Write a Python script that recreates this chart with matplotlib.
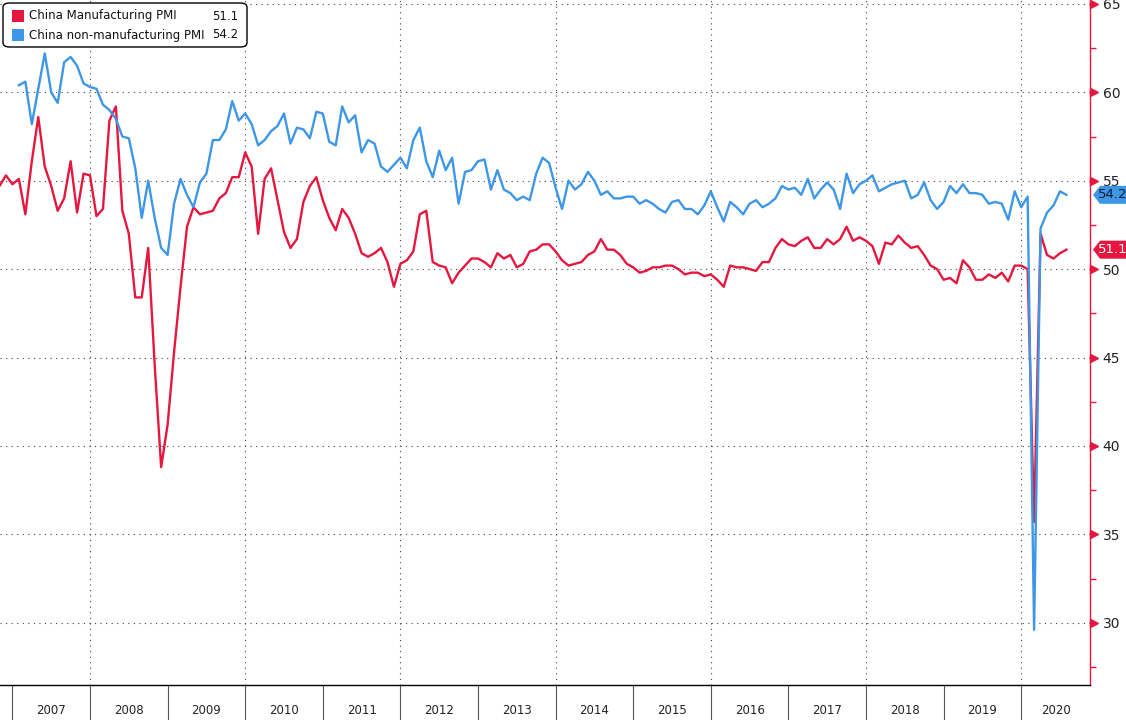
import numpy as np
import matplotlib
matplotlib.use('Agg')
from matplotlib import pyplot as plt
from matplotlib.patches import FancyBboxPatch, Rectangle, Polygon

# China official PMI, monthly (manufacturing starts Oct 2006, non-manufacturing Jan 2007)
mfg_start = (2006, 10)
mfg_pmi = [
    54.7, 55.3, 54.8,
    55.1, 53.1, 56.1, 58.6, 55.8, 54.7, 53.3, 54.0, 56.1, 53.2, 55.4, 55.3,
    53.0, 53.4, 58.4, 59.2, 53.3, 52.0, 48.4, 48.4, 51.2, 44.6, 38.8, 41.2,
    45.3, 49.0, 52.4, 53.5, 53.1, 53.2, 53.3, 54.0, 54.3, 55.2, 55.2, 56.6,
    55.8, 52.0, 55.1, 55.7, 53.9, 52.1, 51.2, 51.7, 53.8, 54.7, 55.2, 53.9,
    52.9, 52.2, 53.4, 52.9, 52.0, 50.9, 50.7, 50.9, 51.2, 50.4, 49.0, 50.3,
    50.5, 51.0, 53.1, 53.3, 50.4, 50.2, 50.1, 49.2, 49.8, 50.2, 50.6, 50.6,
    50.4, 50.1, 50.9, 50.6, 50.8, 50.1, 50.3, 51.0, 51.1, 51.4, 51.4, 51.0,
    50.5, 50.2, 50.3, 50.4, 50.8, 51.0, 51.7, 51.1, 51.1, 50.8, 50.3, 50.1,
    49.8, 49.9, 50.1, 50.1, 50.2, 50.2, 50.0, 49.7, 49.8, 49.8, 49.6, 49.7,
    49.4, 49.0, 50.2, 50.1, 50.1, 50.0, 49.9, 50.4, 50.4, 51.2, 51.7, 51.4,
    51.3, 51.6, 51.8, 51.2, 51.2, 51.7, 51.4, 51.7, 52.4, 51.6, 51.8, 51.6,
    51.3, 50.3, 51.5, 51.4, 51.9, 51.5, 51.2, 51.3, 50.8, 50.2, 50.0, 49.4,
    49.5, 49.2, 50.5, 50.1, 49.4, 49.4, 49.7, 49.5, 49.8, 49.3, 50.2, 50.2,
    50.0, 35.7, 52.0, 50.8, 50.6, 50.9, 51.1,
]

nonmfg_start = (2007, 1)
nonmfg_pmi = [
    60.4, 60.6, 58.2, 60.2, 62.2, 60.0, 59.4, 61.7, 62.0, 61.5, 60.5, 60.3,
    60.2, 59.3, 59.0, 58.5, 57.5, 57.4, 55.7, 52.9, 55.0, 52.9, 51.2, 50.8,
    53.7, 55.1, 54.2, 53.5, 54.9, 55.4, 57.3, 57.3, 57.9, 59.5, 58.4, 58.8,
    58.2, 57.0, 57.3, 57.8, 58.1, 58.8, 57.1, 58.0, 57.9, 57.4, 58.9, 58.8,
    57.2, 57.0, 59.2, 58.3, 58.7, 56.6, 57.3, 57.1, 55.8, 55.5, 55.9, 56.3,
    55.7, 57.3, 58.0, 56.1, 55.2, 56.7, 55.6, 56.3, 53.7, 55.5, 55.6, 56.1,
    56.2, 54.5, 55.6, 54.5, 54.3, 53.9, 54.1, 53.9, 55.4, 56.3, 56.0, 54.6,
    53.4, 55.0, 54.5, 54.8, 55.5, 55.0, 54.2, 54.4, 54.0, 54.0, 54.1, 54.1,
    53.7, 53.9, 53.7, 53.4, 53.2, 53.8, 53.9, 53.4, 53.4, 53.1, 53.6, 54.4,
    53.5, 52.7, 53.8, 53.5, 53.1, 53.7, 53.9, 53.5, 53.7, 54.0, 54.7, 54.5,
    54.6, 54.2, 55.1, 54.0, 54.5, 54.9, 54.5, 53.4, 55.4, 54.3, 54.8, 55.0,
    55.3, 54.4, 54.6, 54.8, 54.9, 55.0, 54.0, 54.2, 54.9, 53.9, 53.4, 53.8,
    54.7, 54.3, 54.8, 54.3, 54.3, 54.2, 53.7, 53.8, 53.7, 52.8, 54.4, 53.5,
    54.1, 29.6, 52.3, 53.2, 53.6, 54.4, 54.2,
]

years = list(range(2007, 2021))
y_ticks = [30, 35, 40, 45, 50, 55, 60, 65]

RED = '#e5173f'
BLUE = '#3d97e6'


def month_x(start, n):
    # points sit at month end
    y0, m0 = start
    return y0 + (m0 - 1) / 12 + (np.arange(n) + 1) / 12


W, H = 1126, 720
fig = plt.figure(figsize=(W / 100, H / 100), dpi=100)
ax = fig.add_axes([0, 35 / H, 1090 / W, 685 / H])

x_mfg = month_x(mfg_start, len(mfg_pmi))
x_non = month_x(nonmfg_start, len(nonmfg_pmi))
ax.plot(x_mfg, mfg_pmi, color=RED, lw=1.7, zorder=3)
ax.plot(x_non, nonmfg_pmi, color=BLUE, lw=1.7, zorder=4)

xmin, xmax = 2006.84, 2020.887
ax.set_xlim(xmin, xmax)
ax.set_ylim(26.48, 65.22)

# grid
for v in y_ticks:
    ax.axhline(v, color='#444444', lw=0.8, ls=(0, (1, 4)), zorder=1)
for yr in years[1::2]:
    ax.axvline(yr, color='#444444', lw=0.8, ls=(0, (1, 4)), zorder=1)

# spines
for s in ['left', 'top']:
    ax.spines[s].set_visible(False)
ax.spines['right'].set_color(RED)
ax.spines['right'].set_linewidth(1.0)
ax.spines['bottom'].set_color('black')
ax.spines['bottom'].set_linewidth(1.0)

# right axis
ax.yaxis.tick_right()
ax.set_yticks(y_ticks)
ax.set_yticks(np.arange(27.5, 65, 5), minor=True)
ax.tick_params(axis='y', which='major', length=0, pad=9, labelsize=10,
               labelcolor='#222222')
ax.tick_params(axis='y', which='minor', length=4, width=1, color=RED,
               direction='out')
ax.plot(np.full(len(y_ticks), 1.004), y_ticks, marker='>', ls='none',
        color=RED, ms=6, transform=ax.get_yaxis_transform(), clip_on=False)

# bottom axis: year separators with labels centred in each year
ax.set_xticks(years)
ax.set_xticklabels([])
centers = [(yr + min(yr + 1, xmax)) / 2 for yr in years]
ax.set_xticks(centers, minor=True)
ax.set_xticklabels([str(y) for y in years], minor=True)
ax.tick_params(axis='x', which='major', length=36, width=0.8, color='#555555')
ax.tick_params(axis='x', which='minor', length=0, pad=14, labelsize=8.5,
               labelcolor='#222222')

# last value tags (arrow-shaped, pointing at the axis)
tags = [(nonmfg_pmi[-1], BLUE, '#0b1b33'), (mfg_pmi[-1], RED, 'white')]
for val, bg, fg in tags:
    _, ypix = ax.transData.transform((xmax, val))
    x0, x1, x2, h = 1093, 1100, 1126, 9
    pts = [(x0, ypix), (x1, ypix + h), (x2, ypix + h), (x2, ypix - h), (x1, ypix - h)]
    fig.patches.append(Polygon(pts, closed=True, transform=None, fc=bg, ec='none',
                               zorder=10))
    fig.text((x2 + x1) / 2 / W, ypix / H, f'{val:.1f}', fontsize=9.5, color=fg,
             ha='center', va='center', zorder=11)

# legend box
def px(x, y):
    return x / W, 1 - y / H

lx, ly = px(3, 47)
box = FancyBboxPatch((lx, ly), 244 / W, 44 / H, boxstyle='round,pad=0,rounding_size=0.006',
                     transform=fig.transFigure, fc='white', ec='black', lw=1.0,
                     zorder=10)
fig.patches.append(box)
entries = [('China Manufacturing PMI', mfg_pmi[-1], RED, 16),
           ('China non-manufacturing PMI', nonmfg_pmi[-1], BLUE, 35)]
for label, val, col, yy in entries:
    rx, ry = px(12, yy + 6)
    fig.patches.append(Rectangle((rx, ry), 12 / W, 12 / H, transform=fig.transFigure,
                                 fc=col, ec='none', zorder=11))
    tx, ty = px(29, yy)
    fig.text(tx, ty, label, fontsize=8.5, va='center', ha='left', color='#111111',
             zorder=12)
    vx, vy = px(238, yy)
    fig.text(vx, vy, f'{val:.1f}', fontsize=8.5, va='center', ha='right',
             color='#111111', zorder=12)

plt.savefig('out.png', dpi=100)
